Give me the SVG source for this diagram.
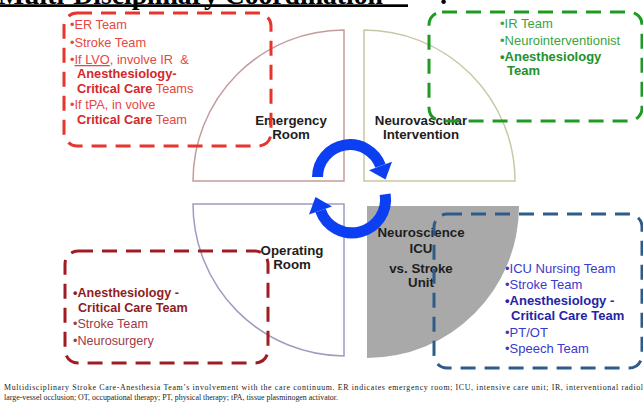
<svg xmlns="http://www.w3.org/2000/svg" width="643" height="405" viewBox="0 0 643 405">
  <style>
    .sans { font-family: "Liberation Sans", Arial, sans-serif; }
    .serif { font-family: "Liberation Serif", "Times New Roman", serif; }
    .quad { stroke-width: 1.5; fill: #ffffff; }
    .label { font-family: "Liberation Sans", Arial, sans-serif; font-weight: bold; font-size: 13.3px; fill: #1e1e1e; text-anchor: middle; }
    .box { fill: none; stroke-width: 3; stroke-dasharray: 15 9; }
    .b { font-weight: bold; }
    .arc { fill: none; stroke: #0d3ff2; stroke-width: 11; }
    .head { fill: #0d3ff2; }
  </style>

  <!-- page title, clipped at the top edge -->
  <g id="title">
    <text class="serif" x="-2" y="3.5" font-size="28" font-weight="bold" fill="#000" textLength="385" lengthAdjust="spacingAndGlyphs">Multi-Disciplinary Coordination</text>
    <text class="serif" x="439" y="3.5" font-size="28" font-weight="bold" fill="#000">:</text>
    <rect x="0" y="4.3" width="408" height="2.7" fill="#000"/>
  </g>

  <!-- four care phases as quarter circles -->
  <g id="emergency-room">
    <path class="quad" stroke="#c49c9c" d="M344,30 V181 H193 A151,151 0 0 1 344,30 Z"/>
    <text class="label" x="291" y="125">Emergency</text>
    <text class="label" x="291" y="139">Room</text>
  </g>
  <g id="neurovascular-intervention">
    <path class="quad" stroke="#c9c8a6" d="M364,30 A151,151 0 0 1 515,181 H364 Z"/>
    <text class="label" x="421" y="125">Neurovascular</text>
    <text class="label" x="421" y="139">Intervention</text>
  </g>
  <g id="operating-room">
    <path class="quad" stroke="#9d9cc2" d="M193,204 H344 V356 A152,152 0 0 1 193,204 Z"/>
    <text class="label" x="292" y="255">Operating</text>
    <text class="label" x="292" y="269">Room</text>
  </g>
  <g id="neuroscience-icu">
    <path fill="#a9a9a9" d="M367,206 H519 A152,152 0 0 1 367,358 Z"/>
    <text class="label" x="421" y="237">Neuroscience</text>
    <text class="label" x="421" y="253">ICU</text>
    <text class="label" x="421" y="273">vs. Stroke</text>
    <text class="label" x="421" y="287">Unit</text>
  </g>

  <!-- team lists in dashed boxes -->
  <g id="er-teams" class="sans" font-size="12.8">
    <rect class="box" stroke="#e8342c" x="64" y="13" width="207" height="133" rx="13"/>
    <g fill="#e6483f">
      <text x="70" y="29">•ER Team</text>
      <text x="70" y="47">•Stroke Team</text>
      <text x="70" y="64" xml:space="preserve">•<tspan text-decoration="underline">If LVO</tspan>, involve IR  &amp;</text>
      <text x="77" y="78" class="b" fill="#d4282c">Anesthesiology-</text>
      <text x="77" y="93"><tspan class="b" fill="#d4282c">Critical Care</tspan> Teams</text>
      <text x="70" y="109">•If tPA, in volve</text>
      <text x="77" y="124"><tspan class="b" fill="#d4282c">Critical Care</tspan> Team</text>
    </g>
  </g>
  <g id="ir-teams" class="sans" font-size="13">
    <rect class="box" stroke="#1f9a22" x="429" y="12" width="213" height="109" rx="13"/>
    <g fill="#3ba343">
      <text x="500" y="28">•IR Team</text>
      <text x="500" y="45">•Neurointerventionist</text>
      <text x="500" y="61" class="b" fill="#22922a">•Anesthesiology</text>
      <text x="507" y="75" class="b" fill="#22922a">Team</text>
    </g>
  </g>
  <g id="or-teams" class="sans" font-size="12.6">
    <rect class="box" stroke="#9e1c22" x="65" y="251" width="203" height="112" rx="13"/>
    <g fill="#9c3a4a">
      <text x="73" y="297" class="b" fill="#8f1c22">•Anesthesiology -</text>
      <text x="78" y="312" class="b" fill="#8f1c22">Critical Care Team</text>
      <text x="73" y="328">•Stroke Team</text>
      <text x="73" y="345">•Neurosurgery</text>
    </g>
  </g>
  <g id="icu-teams" class="sans" font-size="13">
    <rect class="box" stroke="#2e5c8a" x="434" y="214" width="208" height="154" rx="13"/>
    <g fill="#3a3acb">
      <text x="505" y="273">•ICU Nursing Team</text>
      <text x="505" y="289">•Stroke Team</text>
      <text x="505" y="305" class="b" fill="#2424a6">•Anesthesiology -</text>
      <text x="511" y="320" class="b" fill="#2424a6">Critical Care Team</text>
      <text x="505" y="337">•PT/OT</text>
      <text x="505" y="353">•Speech Team</text>
    </g>
  </g>

  <!-- cycle arrows between the phases -->
  <g id="connectors">
    <path class="arc" d="M317.5,177 A32.5,32.5 0 0 1 380.5,165.9"/>
    <polygon class="head" points="392,161.8 369,170.2 385.5,179.5"/>
    <path class="arc" d="M385.2,194.3 A33.5,33.5 0 0 1 320.5,210.5"/>
    <polygon class="head" points="309,214.6 332,206.4 315.5,197"/>
  </g>

  <!-- figure caption -->
  <g id="caption" class="serif" font-size="7.9" fill="#222">
    <text x="4" y="389.5" textLength="639" lengthAdjust="spacing">Multidisciplinary Stroke Care-Anesthesia Team’s involvement with the care continuum. ER indicates emergency room; ICU, intensive care unit; IR, interventional radiol</text>
    <text x="4" y="399.5" textLength="334" lengthAdjust="spacing">large-vessel occlusion; OT, occupational therapy; PT, physical therapy; tPA, tissue plasminogen activator.</text>
  </g>
</svg>
